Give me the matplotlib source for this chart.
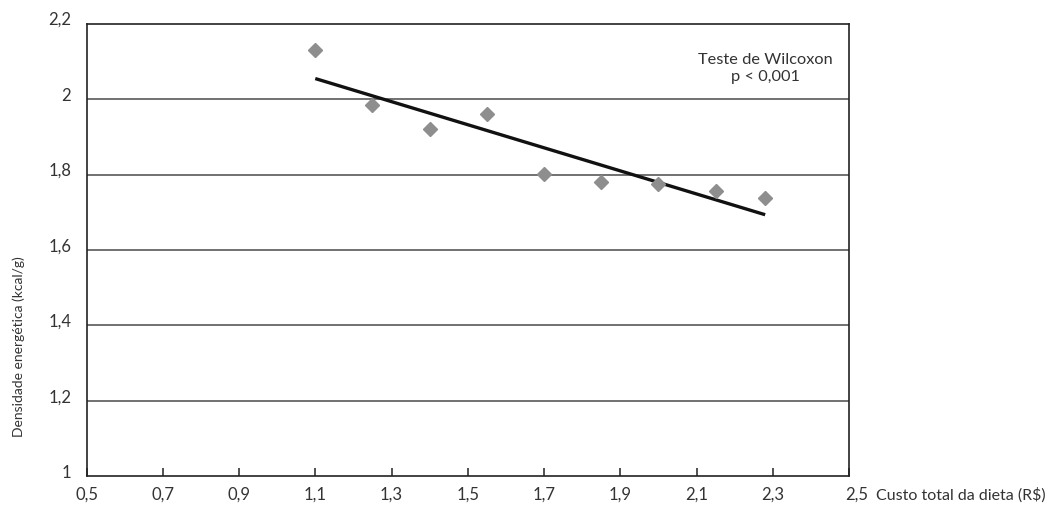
import matplotlib
matplotlib.use("Agg")
import matplotlib.pyplot as plt
import matplotlib.transforms as mtransforms
import numpy as np

# Data
custo = [1.10, 1.25, 1.40, 1.55, 1.70, 1.85, 2.00, 2.15, 2.28]
densidade = [2.130, 1.984, 1.920, 1.959, 1.801, 1.780, 1.775, 1.756, 1.738]
xticks = [0.5, 0.7, 0.9, 1.1, 1.3, 1.5, 1.7, 1.9, 2.1, 2.3, 2.5]
xticklabels = ["0,5", "0,7", "0,9", "1,1", "1,3", "1,5", "1,7", "1,9", "2,1", "2,3", "2,5"]
yticks = [1.0, 1.2, 1.4, 1.6, 1.8, 2.0, 2.2]
yticklabels = ["1", "1,2", "1,4", "1,6", "1,8", "2", "2,2"]

FS = 11.5
plt.rcParams['font.family'] = ['Lato', 'DejaVu Sans']
plt.rcParams['font.size'] = FS

fig = plt.figure(figsize=(10.5, 5.09), dpi=100)
ax = fig.add_axes([0.0824, 0.0639, 0.8086 - 0.0824, 0.9538 - 0.0639])

ax.set_xlim(0.5, 2.5)
ax.set_ylim(1.0, 2.2)

# grid lines
for yv in yticks[1:-1]:
    ax.axhline(yv, color="#4a4a4a", lw=1.1, zorder=1)

# trend line via least squares
coef = np.polyfit(custo, densidade, 1)
xs = np.array([min(custo), max(custo)])
ax.plot(xs, np.polyval(coef, xs), color="#111111", lw=2.4, solid_capstyle="butt", zorder=3)

ax.plot(custo, densidade, linestyle="none", marker="D", markersize=7,
        color="#8e8e8e", markeredgecolor="#8e8e8e", zorder=4)

for s in ax.spines.values():
    s.set_color("#222222")
    s.set_linewidth(1.2)

ax.set_xticks(xticks)
ax.set_xticklabels(xticklabels, color="#333333", fontsize=12)
ax.set_yticks(yticks)
ax.set_yticklabels(yticklabels, color="#333333", fontsize=12)
ax.tick_params(axis="x", direction="in", length=5.5, width=1.1, color="#222222", pad=7)
ax.tick_params(axis="y", length=0, pad=11)

# shift y tick labels slightly upward
off = mtransforms.ScaledTranslation(0, 5 / 100, fig.dpi_scale_trans)
for lab in ax.get_yticklabels():
    lab.set_transform(lab.get_transform() + off)
# last x tick label sits a little to the right
offx = mtransforms.ScaledTranslation(8 / 100, 0, fig.dpi_scale_trans)
xl = ax.get_xticklabels()
xl[-1].set_transform(xl[-1].get_transform() + offx)

ax.text(2.28, 2.081, "Teste de Wilcoxon\np < 0,001", ha="center", va="center",
        color="#333333", fontsize=11.8, linespacing=1.2)

fig.text(876 / 1050, 1 - 495 / 509, "Custo total da dieta (R$)", ha="left", va="center",
         color="#333333", fontsize=FS)
fig.text(19 / 1050, 1 - 347 / 509, "Densidade energética (kcal/g)", ha="center", va="center",
         rotation=90, color="#333333", fontsize=10)

fig.savefig("out.png", dpi=100)
